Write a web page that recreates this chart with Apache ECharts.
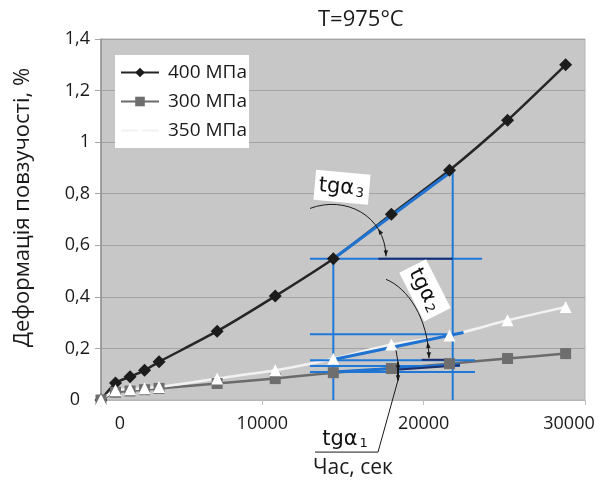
<!DOCTYPE html>
<html><head><meta charset="utf-8">
<script src="https://cdn.jsdelivr.net/npm/echarts@6/dist/echarts.min.js"></script>
<style>html,body{margin:0;padding:0;background:#fff}#c{width:603px;height:487px}</style>
</head><body><div id="c"></div>
<script>
// ---- data (time in seconds, creep deformation in %) ----
const times = [0, 900, 1800, 2700, 3600, 7200, 10800, 14400, 18000, 21600, 25200, 28800];
const s400 = [0, 0.066, 0.090, 0.115, 0.148, 0.267, 0.403, 0.548, 0.720, 0.891, 1.085, 1.300];
const s300 = [0, 0.030, 0.035, 0.040, 0.045, 0.064, 0.083, 0.106, 0.122, 0.141, 0.161, 0.180];
const s350 = [0, 0.038, 0.042, 0.046, 0.050, 0.083, 0.115, 0.160, 0.215, 0.250, 0.309, 0.361];
const seriesNames = ['400 МПа', '300 МПа', '350 МПа'];
const xTickValues = [0, 10000, 20000, 30000];
const yTickValues = [0, 0.2, 0.4, 0.6, 0.8, 1, 1.2, 1.4];
const titleText = 'T=975°C';
const xName = 'Час, сек';
const yName = 'Деформація повзучості, %';

// tangent constructions (data units: [time, deformation])
const tangentLines = [
  [[14400, 0.548], [21800, 0.890]],
  [[14400, 0.157], [22470, 0.262]],
  [[14400, 0.109], [22250, 0.138]]
];
const guideLines = [
  [[14400, 0], [14400, 0.548]],
  [[21800, 0], [21800, 0.890]],
  [[12950, 0.548], [23620, 0.548]],
  [[12950, 0.255], [21800, 0.255]],
  [[12950, 0.154], [23180, 0.154]],
  [[12950, 0.132], [22250, 0.132]],
  [[12950, 0.109], [23180, 0.109]]
];
const angleBases = [
  [[17190, 0.548], [21800, 0.548]],
  [[19880, 0.156], [21530, 0.156]],
  [[18300, 0.117], [22250, 0.135]]
];
// angle arcs (cubic bezier: start, cp1, cp2, end) and leader line
const arc3 = [[12955, 0.743], [15124, 0.794], [17604, 0.717], [17666, 0.557]];
const arc2 = [[17666, 0.468], [19029, 0.433], [20269, 0.317], [20331, 0.162]];
const leader1 = [[18285, 0.193], [18409, 0.1465], [18409, 0.0767], [17170, -0.202], [13265, -0.202]];
const angleLabels = [
  { main: 'tgα', sub: '3', at: [14938, 0.825], rot: -0.09, box: true },
  { main: 'tgα', sub: '2', at: [20083, 0.425], rot: -1.1, box: true },
  { main: 'tgα', sub: '1', at: [15124, -0.148], rot: 0, box: false }
];

const FONT = 'Open Sans';
const pairs = (ys) => times.map((t, i) => [t, ys[i]]);

const dataSeries = [
  { name: seriesNames[0], type: 'line', data: pairs(s400), smooth: 0.2,
    symbol: 'diamond', symbolSize: 13,
    lineStyle: { color: '#262626', width: 2.5 }, itemStyle: { color: '#1c1c1c' } },
  { name: seriesNames[1], type: 'line', data: pairs(s300), smooth: 0.2,
    symbol: 'rect', symbolSize: 11,
    lineStyle: { color: '#6b6b6b', width: 2.5 }, itemStyle: { color: '#6e6e6e' } },
  { name: seriesNames[2], type: 'line', data: pairs(s350), smooth: 0.2,
    symbol: 'triangle', symbolSize: 12,
    lineStyle: { color: '#f2f2f2', width: 2.5 }, itemStyle: { color: '#ffffff' } }
];
const segSeries = (arr, color, width) => arr.map(d => ({
  type: 'line', data: d, showSymbol: false, symbol: 'none', silent: true, z: 3,
  lineStyle: { color: color, width: width }
}));

const option = {
  animation: false,
  backgroundColor: '#ffffff',
  title: { text: titleText, left: 318, top: 9, padding: 0,
    textStyle: { fontFamily: FONT, fontSize: 22, fontWeight: 'normal', color: '#1a1a1a' } },
  legend: {
    data: seriesNames, orient: 'vertical', left: 115, top: 55,
    backgroundColor: '#ffffff', padding: [8, 2, 8, 5], itemGap: 10,
    itemWidth: 38, itemHeight: 12,
    textStyle: { fontFamily: FONT, fontSize: 19, color: '#1a1a1a', padding: [0, 0, 0, 4] }
  },
  grid: { left: 101, right: 18, top: 39, bottom: 87, show: true,
    backgroundColor: '#c7c7c7', borderColor: '#b5b5b5', borderWidth: 1 },
  xAxis: {
    type: 'value', min: 0, max: 30000, interval: 10000,
    name: xName, nameLocation: 'middle', nameGap: 58,
    nameTextStyle: { fontFamily: FONT, fontSize: 21, color: '#1a1a1a', padding: [0, 0, 0, 20] },
    axisLine: { show: true, lineStyle: { color: '#b5b5b5', width: 1 } },
    axisTick: { show: true, length: 5, lineStyle: { color: '#bdbdbd' } },
    splitLine: { show: false },
    axisLabel: {
      margin: 15, fontFamily: FONT, fontSize: 18, color: '#1a1a1a',
      customValues: xTickValues,
      formatter: v => v === 0 ? '{l|0}' : (v === 30000 ? '{r|30000}' : String(v)),
      rich: {
        l: { fontFamily: FONT, fontSize: 18, color: '#1a1a1a', padding: [0, 0, 0, 38] },
        r: { fontFamily: FONT, fontSize: 18, color: '#1a1a1a', padding: [0, 32, 0, 0] }
      }
    }
  },
  yAxis: {
    type: 'value', min: 0, max: 1.4, interval: 0.2,
    name: yName, nameLocation: 'middle', nameGap: 67, nameRotate: 90,
    nameTextStyle: { fontFamily: FONT, fontSize: 22, color: '#1a1a1a', padding: [0, 0, 0, 24] },
    axisLine: { show: true, lineStyle: { color: '#8f8f8f', width: 1.5 } },
    axisTick: { show: true, length: 6, lineStyle: { color: '#a6a6a6' } },
    splitLine: { show: true, lineStyle: { color: '#a3a3a3', width: 1 } },
    axisLabel: {
      margin: 11, fontFamily: FONT, fontSize: 18, color: '#1a1a1a',
      customValues: yTickValues,
      formatter: v => v === 0 ? '{z|0}' : String(Math.round(v * 10) / 10).replace('.', ','),
      rich: { z: { fontFamily: FONT, fontSize: 18, color: '#1a1a1a', padding: [0, 10, 0, 0] } }
    }
  },
  series: dataSeries
    .concat(segSeries(guideLines, '#1f78d8', 2))
    .concat(segSeries(tangentLines, '#1f72d0', 3))
    .concat(segSeries(angleBases, '#1b2f6e', 2))
};

const chart = echarts.init(document.getElementById('c'), null, { renderer: 'canvas' });
chart.setOption(option);

// ---- annotation graphics, positioned from data coordinates ----
const P = p => chart.convertToPixel({ gridIndex: 0 }, p);
const INK = '#1a1a1a';
function arrowHead(tip, dir) {
  const L = Math.hypot(dir[0], dir[1]) || 1;
  const ux = dir[0] / L, uy = dir[1] / L, len = 6, hw = 2.2;
  const bx = tip[0] - ux * len, by = tip[1] - uy * len;
  return { type: 'polygon', z: 100, silent: true,
    shape: { points: [tip, [bx - uy * hw, by + ux * hw], [bx + uy * hw, by - ux * hw]] },
    style: { fill: INK } };
}
function bez(pts, s) {
  const a = (1 - s) ** 3, b = 3 * (1 - s) ** 2 * s, c = 3 * (1 - s) * s * s, d = s ** 3;
  return [a * pts[0][0] + b * pts[1][0] + c * pts[2][0] + d * pts[3][0],
          a * pts[0][1] + b * pts[1][1] + c * pts[2][1] + d * pts[3][1]];
}
function bezD(pts, s) {
  const p = bez(pts, s), q = bez(pts, s + 0.01);
  return [q[0] - p[0], q[1] - p[1]];
}
function arcGraphics(arcData, midS) {
  const pts = arcData.map(P);
  const out = [{ type: 'bezierCurve', z: 100, silent: true,
    shape: { x1: pts[0][0], y1: pts[0][1], cpx1: pts[1][0], cpy1: pts[1][1],
             cpx2: pts[2][0], cpy2: pts[2][1], x2: pts[3][0], y2: pts[3][1] },
    style: { stroke: INK, lineWidth: 1, fill: null } }];
  out.push(arrowHead(pts[3], [pts[3][0] - pts[2][0], pts[3][1] - pts[2][1]]));
  const m = bez(pts, midS), dm = bezD(pts, midS);
  out.push(arrowHead(m, [-dm[0], -dm[1]]));
  return out;
}
const g = [];
g.push(...arcGraphics(arc3, 0.74));
g.push(...arcGraphics(arc2, 0.86));
const lp = leader1.map(P);
g.push({ type: 'polyline', z: 100, silent: true, shape: { points: lp },
  style: { stroke: INK, lineWidth: 1, fill: null } });
g.push({ type: 'rect', z: 100, silent: true,
  shape: { x: lp[1][0] - 1, y: lp[1][1], width: 2, height: lp[2][1] - lp[1][1] },
  style: { fill: INK } });
g.push(arrowHead([lp[1][0], lp[1][1] - 1], [0, -1]));
g.push(arrowHead([lp[2][0], lp[2][1] + 1], [0, 1]));
angleLabels.forEach(l => {
  const c = P(l.at);
  g.push({ type: 'text', z: 110, silent: true, x: c[0], y: c[1], rotation: l.rot,
    style: {
      text: '{m|' + l.main + '}{s|' + l.sub + '}',
      align: 'center', verticalAlign: 'middle',
      backgroundColor: l.box ? '#ffffff' : null,
      padding: l.box ? [2, 5, 4, 4] : 0,
      rich: {
        m: { fontFamily: 'DejaVu Sans', fontSize: 21, fill: '#111', lineHeight: 24, verticalAlign: 'bottom' },
        s: { fontFamily: 'DejaVu Sans', fontSize: 13, fill: '#111', lineHeight: 6, verticalAlign: 'bottom', padding: [0, 0, 0, 2] }
      }
    } });
});
chart.setOption({ graphic: g });
</script>
</body></html>
